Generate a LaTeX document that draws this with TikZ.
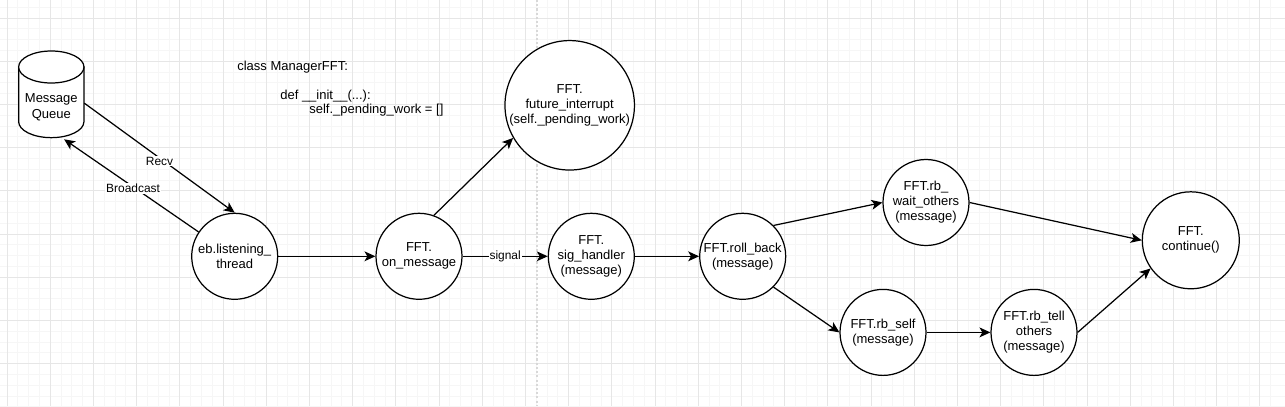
\documentclass[tikz,border=0pt]{standalone}
\usepackage{fontspec}
\setmainfont{Liberation Sans}
\usetikzlibrary{arrows.meta,shapes.geometric}
\definecolor{gridmajor}{HTML}{E6E6E6}
\definecolor{gridminor}{HTML}{F6F6F6}
\definecolor{gridpage}{HTML}{D8D8D8}
\tikzset{
  func/.style={circle,draw,line width=0.7pt,fill=white,inner sep=0pt,minimum size=1.72cm,align=center,font=\fontsize{7.4}{8.5}\selectfont},
  bigfunc/.style={func,minimum size=2.59cm},
  midfunc/.style={func,minimum size=1.94cm},
  queue/.style={inner sep=0pt,minimum width=1.306cm,minimum height=1.734cm,align=center,font=\fontsize{7.4}{9}\selectfont},
  queueline/.style={draw,line width=0.7pt,fill=white},
  flow/.style={-{Stealth[length=6.2pt,width=5.6pt,inset=1.6pt]},line width=0.7pt},
  edgelabel/.style={fill=white,inner sep=0.5pt,font=\fontsize{6.8}{8}\selectfont},
  codetext/.style={inner sep=0pt,align=left,anchor=north west,font=\fontsize{7.4}{8.2}\selectfont}
}
\begin{document}
\begin{tikzpicture}[x=0.02cm,y=-0.02cm]
\useasboundingbox (0,0) rectangle (1285,406);
\fill[white] (0,0) rectangle (1285,406);

% grid of the page
\foreach \k in {0,...,118} \draw[gridminor,line width=0.4pt] ({-3.8+10.8*\k},0) -- ({-3.8+10.8*\k},406);
\foreach \k in {0,...,37} \draw[gridminor,line width=0.4pt] (0,{7.2+10.8*\k}) -- (1285,{7.2+10.8*\k});
\foreach \k in {0,...,29} \draw[gridmajor,line width=0.4pt] ({7+43.2*\k},0) -- ({7+43.2*\k},406);
\foreach \k in {0,...,8} \draw[gridmajor,line width=0.4pt] (0,{18+43.2*\k}) -- (1285,{18+43.2*\k});
\draw[gridpage,line width=0.7pt,dash pattern=on 1.2pt off 1.2pt] (537,0) -- (537,406);

% the queue drum
\draw[queueline] (18.65,67) -- (18.65,121.65) .. controls (18.65,130.5) and (33.3,137.65) .. (51.3,137.65) .. controls (69.3,137.65) and (83.95,130.5) .. (83.95,121.65) -- (83.95,67) -- cycle;
\draw[queueline] (51.3,67) ellipse [x radius=32.65,y radius=16];
\node[queue] (queue) at (51.3,94.3) {\rule{0pt}{20pt}Message\\Queue};

\node[func] (listen) at (234.7,256.3) {eb.listening\_\\thread};
\node[func] (onmsg) at (419,256.3) {FFT.\\on\_message};
\node[bigfunc] (future) at (569.7,105.3) {FFT.\\future\_interrupt\\(self.\_pending\_work)};
\node[func] (sighandler) at (591.3,256.3) {FFT.\\sig\_handler\\(message)};
\node[func] (rollback) at (742.7,256.3) {FFT.roll\_back\\(message)};
\node[func] (waitothers) at (926,202.5) {FFT.rb\_\\wait\_others\\(message)};
\node[func] (rbself) at (883,332.4) {FFT.rb\_self\\(message)};
\node[func] (tellothers) at (1034,332.4) {FFT.rb\_tell\\others\\(message)};
\node[midfunc] (continue) at (1190.8,240.3) {FFT.\\continue()};

\node[codetext] (manager) at (237,61) {class ManagerFFT:\\ \mbox{}\\ \hspace*{0.86cm}def \_\_init\_\_(...):\\ \hspace*{1.44cm}self.\_pending\_work = []};

\draw[flow] (queue.-15) -- node[edgelabel,yshift=-0.07cm] {Recv} (listen.north);
\draw[flow,shorten >=1.3pt] (listen.146) -- node[edgelabel,pos=0.48,yshift=-0.03cm] {Broadcast} (queue.-76.5);
\draw[flow] (listen.east) -- (onmsg.west);
\draw[flow] (onmsg.70) -- (future.210);
\draw[flow] (onmsg.east) -- node[edgelabel] {signal} (sighandler.west);
\draw[flow] (sighandler.east) -- (rollback.west);
\draw[flow] (rollback.45) -- (waitothers.west);
\draw[flow] (rollback.-45) -- (rbself.west);
\draw[flow] (rbself.east) -- (tellothers.west);
\draw[flow] (waitothers.east) -- (continue.west);
\draw[flow] (tellothers.east) -- (continue.215);

\end{tikzpicture}
\end{document}
